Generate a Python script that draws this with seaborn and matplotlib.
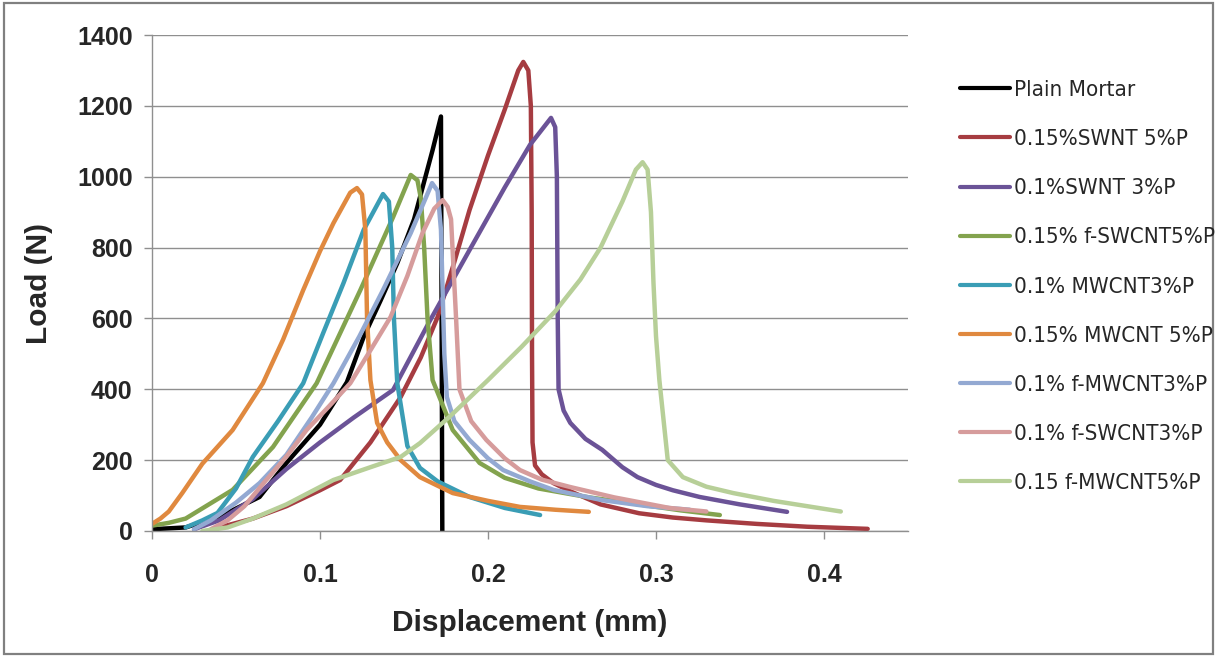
import pandas as pd
import seaborn as sns
import matplotlib.pyplot as plt
from matplotlib import font_manager
from matplotlib.patches import Rectangle
from matplotlib.lines import Line2D

# --- data (displacement mm, load N) ---
plain_x = [0.0, 0.02, 0.04, 0.064, 0.08, 0.1, 0.116, 0.126, 0.136, 0.146, 0.156, 0.167, 0.172, 0.1728]
plain_y = [5, 10, 40, 96, 192, 300, 420, 548, 650, 756, 880, 1075, 1170, 0]

swnt5_x = [0.04, 0.06, 0.08, 0.1, 0.112, 0.13, 0.148, 0.16, 0.17, 0.18, 0.189, 0.2, 0.21, 0.218, 0.221,
           0.224, 0.2255, 0.226, 0.2262, 0.2265, 0.228, 0.232, 0.239, 0.25, 0.267, 0.29, 0.31, 0.33, 0.36, 0.39, 0.426]
swnt5_y = [10, 35, 70, 115, 144, 250, 378, 490, 604, 760, 906, 1060, 1190, 1300, 1324,
           1300, 1200, 900, 500, 250, 185, 160, 135, 110, 75, 50, 38, 30, 20, 12, 6]

swnt3_x = [0.025, 0.04, 0.06, 0.08, 0.1, 0.12, 0.1435, 0.165, 0.189, 0.21, 0.225, 0.2375, 0.24,
           0.241, 0.2415, 0.242, 0.245, 0.249, 0.258, 0.268, 0.28, 0.289, 0.3, 0.31, 0.326, 0.35, 0.378]
swnt3_y = [5, 30, 90, 175, 250, 320, 398, 590, 793, 970, 1090, 1166, 1140,
           1000, 600, 400, 340, 305, 260, 229, 180, 152, 130, 115, 96, 75, 54]

fswcnt5_x = [0.0, 0.01, 0.02, 0.048, 0.072, 0.098, 0.124, 0.1435, 0.154, 0.158, 0.16, 0.162, 0.164,
             0.167, 0.179, 0.195, 0.21, 0.23, 0.26, 0.29, 0.315, 0.338]
fswcnt5_y = [15, 23, 35, 116, 237, 417, 680, 886, 1005, 990, 940, 800, 600,
             426, 285, 192, 150, 120, 95, 75, 58, 45]

mwcnt3_x = [0.02, 0.03, 0.039, 0.05, 0.06, 0.075, 0.09, 0.102, 0.114, 0.126, 0.1375, 0.141, 0.143,
            0.144, 0.146, 0.152, 0.1595, 0.17, 0.189, 0.21, 0.231]
mwcnt3_y = [10, 30, 51, 120, 209, 310, 417, 560, 700, 850, 951, 930, 800,
            600, 417, 240, 178, 140, 96, 65, 45]

mwcnt5_x = [0.0, 0.005, 0.01, 0.018, 0.03, 0.048, 0.066, 0.078, 0.09, 0.1, 0.108, 0.118, 0.122, 0.125,
            0.127, 0.128, 0.13, 0.134, 0.14, 0.148, 0.1595, 0.179, 0.2, 0.219, 0.24, 0.26]
mwcnt5_y = [20, 35, 55, 107, 190, 285, 417, 540, 680, 790, 869, 955, 968, 950,
            850, 600, 426, 305, 250, 200, 152, 107, 85, 68, 60, 54]

fmwcnt3_x = [0.025, 0.035, 0.05, 0.064, 0.08, 0.095, 0.108, 0.1235, 0.1375, 0.154, 0.1667, 0.17,
             0.172, 0.174, 0.1755, 0.18, 0.189, 0.2, 0.209, 0.225, 0.239, 0.268, 0.295, 0.32]
fmwcnt3_y = [5, 30, 80, 135, 215, 320, 417, 550, 680, 841, 982, 960,
             850, 500, 378, 310, 257, 205, 172, 140, 116, 87, 70, 60]

fswcnt3_x = [0.035, 0.045, 0.055, 0.068, 0.08, 0.092, 0.105, 0.118, 0.13, 0.142, 0.152, 0.161, 0.168, 0.173,
             0.176, 0.178, 0.181, 0.183, 0.19, 0.199, 0.21, 0.219, 0.232, 0.249, 0.275, 0.308, 0.33]
fswcnt3_y = [5, 30, 70, 144, 210, 285, 350, 417, 510, 604, 720, 841, 910, 934,
             915, 880, 600, 400, 310, 257, 205, 172, 145, 124, 95, 65, 55]

fmwcnt5_x = [0.03, 0.045, 0.06, 0.08, 0.108, 0.13, 0.148, 0.1595, 0.177, 0.2, 0.22, 0.24, 0.255, 0.267,
             0.28, 0.288, 0.292, 0.295, 0.297, 0.2985, 0.3, 0.302, 0.307, 0.316, 0.33, 0.346, 0.37, 0.39, 0.41]
fmwcnt5_y = [0, 10, 35, 75, 144, 180, 209, 248, 322, 426, 520, 620, 710, 800,
             930, 1020, 1041, 1020, 900, 700, 550, 426, 200, 152, 125, 107, 85, 70, 55]

series_names = ['Plain Mortar', '0.15%SWNT 5%P', '0.1%SWNT 3%P', '0.15% f-SWCNT5%P',
                '0.1% MWCNT3%P', '0.15% MWCNT 5%P', '0.1% f-MWCNT3%P', '0.1% f-SWCNT3%P',
                '0.15 f-MWCNT5%P']
series_x = [plain_x, swnt5_x, swnt3_x, fswcnt5_x, mwcnt3_x, mwcnt5_x, fmwcnt3_x, fswcnt3_x, fmwcnt5_x]
series_y = [plain_y, swnt5_y, swnt3_y, fswcnt5_y, mwcnt3_y, mwcnt5_y, fmwcnt3_y, fswcnt3_y, fmwcnt5_y]
series_colors = ['#000000', '#A63C41', '#6B5397', '#83A34E', '#3A9DB5',
                 '#E0893F', '#93A9D2', '#D69C9C', '#B7CF98']

rows = []
for name, xs, ys in zip(series_names, series_x, series_y):
    for i, (xv, yv) in enumerate(zip(xs, ys)):
        rows.append({'series': name, 'order': i, 'disp': xv, 'load': yv})
df = pd.DataFrame(rows)

sns.set_theme(style='white')
plt.rcParams['font.family'] = ['Liberation Sans', 'DejaVu Sans']

# legend text in the original is a narrow face; use a condensed one if there is one
cond = font_manager.FontProperties(family='DejaVu Sans', stretch='condensed')
cond_file = font_manager.findfont(cond, fallback_to_default=False)
if 'Condensed' in cond_file:
    legend_prop = {'family': 'DejaVu Sans', 'stretch': 'condensed', 'size': 16}
else:
    legend_prop = {'family': 'Liberation Sans', 'size': 14.5}

fig = plt.figure(figsize=(12.17, 6.57), dpi=100)
ax = fig.add_axes([0.1249, 0.1918, 0.6212, 0.7549])

palette = dict(zip(series_names, series_colors))
sns.lineplot(data=df, x='disp', y='load', hue='series', hue_order=series_names,
             palette=palette, sort=False, estimator=None, units='series',
             linewidth=3.2, legend=False, ax=ax)

ax.set_xlim(0, 0.45)
ax.set_ylim(0, 1400)
ax.set_xticks([0, 0.1, 0.2, 0.3, 0.4])
ax.set_xticklabels(['0', '0.1', '0.2', '0.3', '0.4'])
ax.set_yticks(range(0, 1401, 200))

grid_c = '#8f8f8f'
ax.yaxis.grid(True, color=grid_c, linewidth=1.0)
ax.xaxis.grid(False)
ax.set_axisbelow(True)
for s in ['top', 'right']:
    ax.spines[s].set_visible(False)
for s in ['left', 'bottom']:
    ax.spines[s].set_color(grid_c)
    ax.spines[s].set_linewidth(1.0)

ax.tick_params(axis='both', which='major', direction='out', length=6, width=1.0,
               color=grid_c, labelsize=18, bottom=True, left=True)
ax.tick_params(axis='x', pad=17)
ax.tick_params(axis='y', pad=8)
for lab in ax.get_xticklabels() + ax.get_yticklabels():
    lab.set_fontweight('bold')

ax.set_xlabel('Displacement (mm)', fontsize=21.5, fontweight='bold', labelpad=16)
ax.set_ylabel('Load (N)', fontsize=21.5, fontweight='bold')
ax.yaxis.set_label_coords(-0.131, 0.5)

handles = [Line2D([0], [0], color=c, linewidth=3) for c in series_colors]
fig.legend(handles, series_names, loc='upper left', bbox_to_anchor=(0.789, 0.878),
           frameon=False, borderpad=0, borderaxespad=0, handlelength=2.25,
           handletextpad=0.19, labelspacing=1.31, prop=legend_prop)

fig.patches.append(Rectangle((0.003, 0.005), 0.994, 0.99, transform=fig.transFigure,
                             fill=False, edgecolor='#808080', linewidth=1.6))

fig.savefig('out.png', dpi=100)
